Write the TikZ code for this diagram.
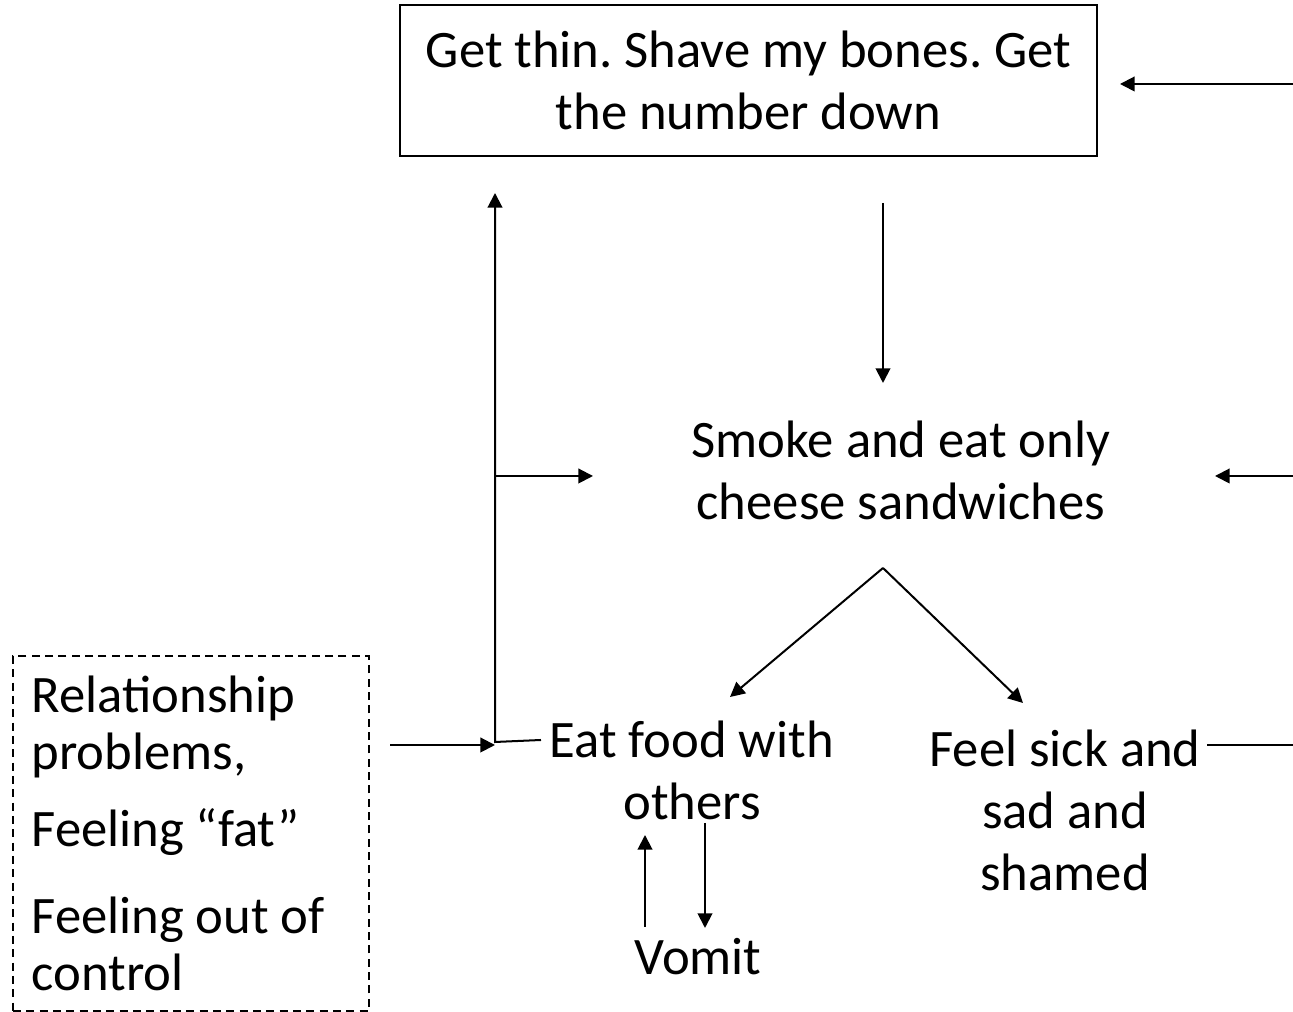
\documentclass[tikz,border=0pt]{standalone}
\usepackage{fontspec}
\setmainfont{Carlito}
\usetikzlibrary{arrows.meta}
\begin{document}
\frenchspacing
\begin{tikzpicture}[x=0.75pt,y=0.75pt,
  txt/.style={font=\fontsize{39.5}{46.5}\selectfont,align=center,inner sep=2pt},
  flow/.style={line width=1.5pt,-{Triangle[length=11pt,width=11pt]}},
  link/.style={line width=1.5pt}]
\useasboundingbox (0,0) rectangle (1293,1012);
  % boxes and labels
  \node[txt,draw,line width=1.2pt,minimum width=523pt,minimum height=113pt] (goal) at (748.5,931.5)
    {Get thin. Shave my bones. Get\\the number down};
  \node[txt] (smoke) at (901,542) {Smoke and eat only\\cheese sandwiches};
  \node[txt] (eat) at (692,242) {Eat food with\\others};
  \node[txt] (sick) at (1065,202) {Feel sick and\\sad and\\shamed};
  \node[txt] (vomit) at (698,55) {Vomit};
  \node[txt,font=\fontsize{39.5}{43}\selectfont,align=flush left,anchor=north west,draw,dashed,
        line width=1.5pt,dash pattern=on 6pt off 4pt,text width=239pt,inner sep=14pt,
        minimum height=266pt] (cause) at (12,357)
    {Relationship\\problems,\\[15pt]Feeling “fat”\\[22pt]Feeling out of\\control\\[-6pt]};
  % connector ends
  \coordinate (rtop) at (1293,928);
  \coordinate (rmid) at (1293,536);
  \coordinate (rlow) at (1293,267);
  \coordinate (spine) at (495,270);
  \coordinate (fork) at (883,444);
  % connectors
  \draw[flow] (rtop) -- (1120,928);
  \draw[flow] (883,809) -- (883,629);
  \draw[flow] (rmid) -- (1215,536);
  \draw[flow] (541,272) -- (spine) -- (495,819);
  \draw[flow] (spine |- rmid) -- (593,536);
  \draw[flow] (390,267) -- (spine |- rlow);
  \draw[flow] (fork) -- (730,315);
  \draw[flow] (fork) -- (1023,309);
  \draw[link] (1207,267) -- (rlow);
  \draw[flow] (645,85) -- (645,177);
  \draw[flow] (705,189) -- (705,84);
\end{tikzpicture}
\end{document}
